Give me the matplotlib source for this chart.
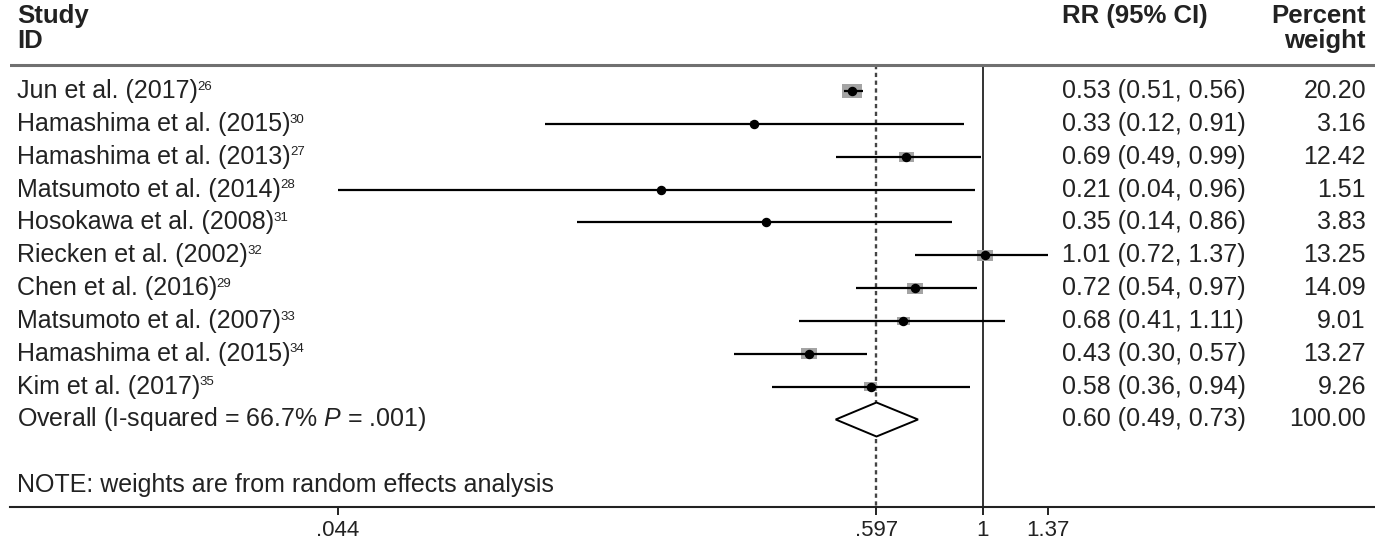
import numpy as np
import matplotlib
matplotlib.use('Agg')
import matplotlib.pyplot as plt
from matplotlib.path import Path

plt.rcParams['font.family'] = ['Liberation Sans', 'DejaVu Sans']
plt.rcParams['mathtext.fontset'] = 'custom'
plt.rcParams['mathtext.rm'] = 'Liberation Sans'
plt.rcParams['mathtext.it'] = 'Liberation Sans:italic'

# ── data ──
studies = ['Jun et al. (2017)', 'Hamashima et al. (2015)', 'Hamashima et al. (2013)',
           'Matsumoto et al. (2014)', 'Hosokawa et al. (2008)', 'Riecken et al. (2002)',
           'Chen et al. (2016)', 'Matsumoto et al. (2007)', 'Hamashima et al. (2015)',
           'Kim et al. (2017)']
refs = ['26', '30', '27', '28', '31', '32', '29', '33', '34', '35']
rr = [0.53, 0.33, 0.69, 0.21, 0.35, 1.01, 0.72, 0.68, 0.43, 0.58]
ci_lo = [0.51, 0.12, 0.49, 0.04, 0.14, 0.72, 0.54, 0.41, 0.30, 0.36]
ci_hi = [0.56, 0.91, 0.99, 0.96, 0.86, 1.37, 0.97, 1.11, 0.57, 0.94]
weights = [20.20, 3.16, 12.42, 1.51, 3.83, 13.25, 14.09, 9.01, 13.27, 9.26]

overall_est, overall_lo, overall_hi, overall_w = 0.597, 0.49, 0.73, 100.00
overall_label = 'Overall (I-squared = 66.7% $P$ = .001)'
note = 'NOTE: weights are from random effects analysis'

xticks = [0.044, 0.597, 1, 1.37]
xticklabels = ['.044', '.597', '1', '1.37']

# ── layout (pixel based) ──
W, H = 1375, 540
row0, dy = 91, 32.85
ax_left, ax_bottom = 10, 33
y_top = (0 - row0) / dy
y_bot = (H - ax_bottom - row0) / dy
px_per_log = 206.5
x_one = 983
x_min = np.exp((ax_left - x_one) / px_per_log)
x_max = np.exp((W - x_one) / px_per_log)

def axx(px):
    return (px - ax_left) / (W - ax_left)

def rowy(px):
    return (px - row0) / dy

fig = plt.figure(figsize=(W / 100, H / 100), dpi=100)
ax = fig.add_axes([ax_left / W, ax_bottom / H, 1 - ax_left / W, 1 - ax_bottom / H])
ax.set_xscale('log')
ax.set_xlim(x_min, x_max)
ax.set_ylim(y_bot, y_top)

txt = '#222222'
fs = 18
hfs = 18.5
ytr = ax.get_yaxis_transform()

# headers
hdr = dict(transform=ytr, fontsize=hfs, fontweight='heavy', color=txt, va='center')
ax.text(axx(17), rowy(16), 'Study', ha='left', **hdr)
ax.text(axx(17), rowy(41), 'ID', ha='left', **hdr)
ax.text(axx(1062), rowy(16), 'RR (95% CI)', ha='left', **hdr)
ax.text(axx(1366), rowy(16), 'Percent', ha='right', **hdr)
ax.text(axx(1366), rowy(41), 'weight', ha='right', **hdr)
ax.axhline(rowy(65), color='#707070', lw=2.2)

ypos = np.arange(len(studies))
y_overall = len(studies)

# reference lines
ax.vlines(1, rowy(65), y_bot, color='#333333', lw=1.4, zorder=1)
ax.vlines(overall_est, rowy(65), y_bot, color='#444444', lw=1.7,
          linestyles=(0, (1.8, 1.5)), zorder=1)

# CIs, boxes, points
lo_clip = np.maximum(ci_lo, xticks[0])
ax.hlines(ypos, lo_clip, ci_hi, color='black', lw=1.6, zorder=3)
box = Path([(-1, -0.68), (1, -0.68), (1, 0.68), (-1, 0.68), (-1, -0.68)],
           [Path.MOVETO, Path.LINETO, Path.LINETO, Path.LINETO, Path.CLOSEPOLY])
ax.scatter(rr, ypos, s=np.array(weights) * 9.5, marker=box, color='#a4a4a4',
           edgecolors='none', zorder=2)
ax.plot(rr, ypos, 'o', color='black', ms=5.8, zorder=4)

# overall diamond
dh = 17 / dy
ax.fill([overall_lo, overall_est, overall_hi, overall_est],
        [y_overall, y_overall - dh, y_overall, y_overall + dh],
        facecolor='white', edgecolor='black', lw=1.4, zorder=3)

# left labels and right columns
for i, (name, ref) in enumerate(zip(studies, refs)):
    t = ax.text(axx(17), i, name, transform=ytr, fontsize=fs,
                color=txt, va='center', ha='left')
    ax.annotate(ref, xy=(1, 0.93), xycoords=t, xytext=(-0.5, 0), textcoords='offset points',
                fontsize=9.5, color=txt, va='top', ha='left')
for i, (r, l, h, w) in enumerate(zip(rr, ci_lo, ci_hi, weights)):
    ax.text(axx(1062), i, f'{r:.2f} ({l:.2f}, {h:.2f})', transform=ytr, fontsize=fs,
            color=txt, va='center', ha='left')
    ax.text(axx(1366), i, f'{w:.2f}', transform=ytr, fontsize=fs,
            color=txt, va='center', ha='right')

ax.text(axx(17), y_overall, overall_label, transform=ytr, fontsize=fs,
        color=txt, va='center', ha='left')
ax.text(axx(1062), y_overall, f'{overall_est:.2f} ({overall_lo:.2f}, {overall_hi:.2f})',
        transform=ytr, fontsize=fs, color=txt, va='center', ha='left')
ax.text(axx(1366), y_overall, f'{overall_w:.2f}', transform=ytr, fontsize=fs,
        color=txt, va='center', ha='right')
ax.text(axx(17), rowy(485), note, transform=ytr, fontsize=fs, color=txt,
        va='center', ha='left')

# axis
for s in ['top', 'right', 'left']:
    ax.spines[s].set_visible(False)
ax.spines['bottom'].set_linewidth(1.5)
ax.spines['bottom'].set_color('#222222')
ax.set_yticks([])
ax.set_xticks(xticks)
ax.set_xticklabels(xticklabels)
ax.minorticks_off()
ax.tick_params(axis='x', direction='out', length=6, width=1.4, colors='#222222',
               labelsize=16, pad=3)

fig.savefig('out.png', dpi=100, facecolor='white')
